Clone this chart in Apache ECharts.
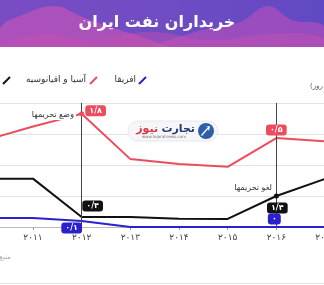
<!DOCTYPE html>
<html><head><meta charset="utf-8">
<script src="https://cdn.jsdelivr.net/npm/echarts@6/dist/echarts.min.js"></script>
<style>html,body{margin:0;padding:0;background:#fff}#c{width:324px;height:285px}</style>
</head><body><div id="c"></div>
<script>
// Data (arbitrary chart units 0..4)
var years = ['۲۰۱۰','۲۰۱۱','۲۰۱۲','۲۰۱۳','۲۰۱۴','۲۰۱۵','۲۰۱۶','۲۰۱۷'];
var europe = [1.56, 1.56, 0.32, 0.32, 0.27, 0.26, 1.0, 1.55];
var asia = [2.79, 3.24, 3.65, 2.19, 2.03, 1.94, 2.87, 2.76];
var africa = [0.29, 0.29, 0.19, 0, 0, 0, 0, 0];
var seriesNames = ['اروپا', 'آسیا و اقیانوسیه', 'افریقا'];
var labels2012 = ['۰/۴', '۱/۸', '۰/۱'];
var labels2016 = ['۱/۴', '۰/۵', '۰'];
var titleText = 'خریداران نفت ایران';
var unitText = '(میلیون بشکه در روز)';

var FONT = 'DejaVu Sans';
var colors = ['#111111', '#ee4b5d', '#2a20cc'];

function box(color, off) {
  return {show:true, position:'inside', offset:off, backgroundColor:color, borderRadius:3,
    padding:[2,4,1,4], color:'#fff', fontSize:8, fontWeight:'bold', fontFamily:FONT,
    formatter:function(p){return p.name;}};
}
function mp(vals, texts, offs, color, dots) {
  var d = [];
  [2,6].forEach(function(ci, k){
    d.push({name:texts[k], coord:[ci, vals[ci]], symbolSize:0, label:box(color, offs[k])});
  });
  (dots||[]).forEach(function(ci){
    d.push({name:'', coord:[ci, vals[ci]], symbol:'circle', symbolSize:5, itemStyle:{color:color}, label:{show:false}});
  });
  return {symbol:'circle', silent:true, animation:false, data:d, z:10};
}

var chart = echarts.init(document.getElementById('c'), null, {renderer:'canvas'});
chart.setOption({
  animation:false,
  grid:{left:-15.7, right:-1, top:103, bottom:58, containLabel:false, outerBoundsMode:'none'},
  xAxis:{type:'category', data:years, boundaryGap:false,
    axisLine:{lineStyle:{color:'#bbbbbb', width:1}},
    axisTick:{show:true, length:3, inside:false, alignWithLabel:true, lineStyle:{color:'#999'}},
    axisLabel:{interval:0, color:'#444', fontSize:9, fontFamily:FONT, margin:6, hideOverlap:false},
    splitLine:{show:false}},
  yAxis:{type:'value', min:0, max:4, interval:1,
    axisLabel:{show:false}, axisLine:{show:false}, axisTick:{show:false},
    splitLine:{lineStyle:{color:'#e2e2e2', width:1}}},
  series:[
    {name:seriesNames[0], type:'line', data:europe, showSymbol:false, lineStyle:{color:colors[0], width:2}, itemStyle:{color:colors[0]}, z:3,
      markLine:{silent:true, symbol:'none', animation:false, label:{show:false},
        lineStyle:{color:'#444', width:1, type:'solid'}, data:[{xAxis:2},{xAxis:6}]},
      markPoint:mp(europe, [labels2012[0], labels2016[0]], [[11,-11],[1,12]], colors[0], [6])},
    {name:seriesNames[1], type:'line', data:asia, showSymbol:false, lineStyle:{color:colors[1], width:2}, itemStyle:{color:colors[1]}, z:3,
      markPoint:mp(asia, [labels2012[1], labels2016[1]], [[14,-3],[0,-8]], colors[1], [2])},
    {name:seriesNames[2], type:'line', data:africa, showSymbol:false, lineStyle:{color:colors[2], width:2}, itemStyle:{color:colors[2]}, z:4,
      markPoint:mp(africa, [labels2012[2], labels2016[2]], [[-10,7],[-2,-8]], colors[2])}
  ],
  graphic:[
    // banner
    {type:'rect', shape:{x:0,y:0,width:324,height:47}, z:1,
      style:{fill:new echarts.graphic.LinearGradient(0,0,1,0,[{offset:0,color:'#7a4cc4'},{offset:0.5,color:'#6f4cc2'},{offset:1,color:'#6049c4'}])}},
    {type:'polygon', z:2, shape:{smooth:0.4, points:[[0,50],[0,28],[25,14],[55,6],[85,18],[120,30],[150,40],[175,50]]},
      style:{fill:'rgba(215,85,180,0.55)'}},
    {type:'polygon', z:2, shape:{smooth:0.4, points:[[150,50],[195,32],[240,22],[268,6],[292,20],[324,26],[324,50]]},
      style:{fill:'rgba(205,80,185,0.50)'}},
    {type:'polygon', z:2, shape:{smooth:0.5, points:[[0,50],[40,34],[90,40],[150,32],[210,40],[270,34],[324,38],[324,50]]},
      style:{fill:'rgba(200,80,175,0.45)'}},
    {type:'rect', shape:{x:0,y:47,width:324,height:20}, z:3, style:{fill:'#ffffff'}},
    {type:'text', z:5, x:157, y:23, style:{text:titleText, fill:'#ffffff', font:'bold 16px "DejaVu Sans"', textAlign:'center', textVerticalAlign:'middle'}},
    // legend
    {type:'line', z:5, shape:{x1:3,y1:84,x2:10,y2:77}, style:{stroke:colors[0], lineWidth:2}},
    {type:'text', z:5, x:0, y:80, style:{text:seriesNames[0], fill:'#333', font:'9px "DejaVu Sans"', textAlign:'right', textVerticalAlign:'middle'}},
    {type:'line', z:5, shape:{x1:90,y1:84,x2:97,y2:77}, style:{stroke:colors[1], lineWidth:2}},
    {type:'text', z:5, x:86, y:80, style:{text:seriesNames[1], fill:'#333', font:'9px "DejaVu Sans"', textAlign:'right', textVerticalAlign:'middle'}},
    {type:'line', z:5, shape:{x1:139,y1:84,x2:146,y2:77}, style:{stroke:colors[2], lineWidth:2}},
    {type:'text', z:5, x:136, y:80, style:{text:seriesNames[2], fill:'#333', font:'9px "DejaVu Sans"', textAlign:'right', textVerticalAlign:'middle'}},
    {type:'text', z:5, x:310, y:86, style:{text:unitText, fill:'#555', font:'7px "DejaVu Sans"', textAlign:'left', textVerticalAlign:'middle'}},
    // annotations
    {type:'text', z:20, x:76, y:115, style:{text:'وضع تحریمها', fill:'#333', font:'8px "DejaVu Sans"', textAlign:'right', textVerticalAlign:'middle', backgroundColor:'#fff', padding:[1,2]}},
    {type:'line', z:20, shape:{x1:77,y1:114.5,x2:82,y2:114}, style:{stroke:colors[1], lineWidth:1.5}},
    {type:'text', z:20, x:272, y:188, style:{text:'لغو تحریمها', fill:'#333', font:'8px "DejaVu Sans"', textAlign:'right', textVerticalAlign:'middle'}},
    // watermark logo
    {type:'rect', z:15, shape:{x:128,y:121,width:90,height:20,r:10}, style:{fill:'#f6f6f8', stroke:'#e8e8ee', lineWidth:1}},
    {type:'circle', z:16, shape:{cx:206,cy:131,r:8}, style:{fill:'#2d5fa8'}},
    {type:'polygon', z:17, shape:{points:[[201,135],[208,127],[205,127],[210,126],[209,131],[208,129],[202,136]]}, style:{fill:'#fff'}},
    {type:'text', z:16, x:195, y:129, style:{text:'{b|نیوز} {a|تجارت}', textAlign:'right', textVerticalAlign:'middle',
      rich:{a:{fill:'#1f3c6e', font:'bold 11px "DejaVu Sans"'}, b:{fill:'#d83a4a', font:'bold 11px "DejaVu Sans"'}}}},
    {type:'text', z:16, x:164, y:137, style:{text:'www.tejaratnews.com', fill:'#777', font:'4px "DejaVu Sans"', textAlign:'center', textVerticalAlign:'middle'}},
    // source + bottom rule
    {type:'text', z:5, x:11, y:257, style:{text:'منبع: رویترز', fill:'#aaa', font:'7px "DejaVu Sans"', textAlign:'right', textVerticalAlign:'middle'}},
    {type:'line', z:5, shape:{x1:0,y1:283.5,x2:324,y2:283.5}, style:{stroke:'#e2e2e2', lineWidth:1}}
  ]
});
</script></body></html>
